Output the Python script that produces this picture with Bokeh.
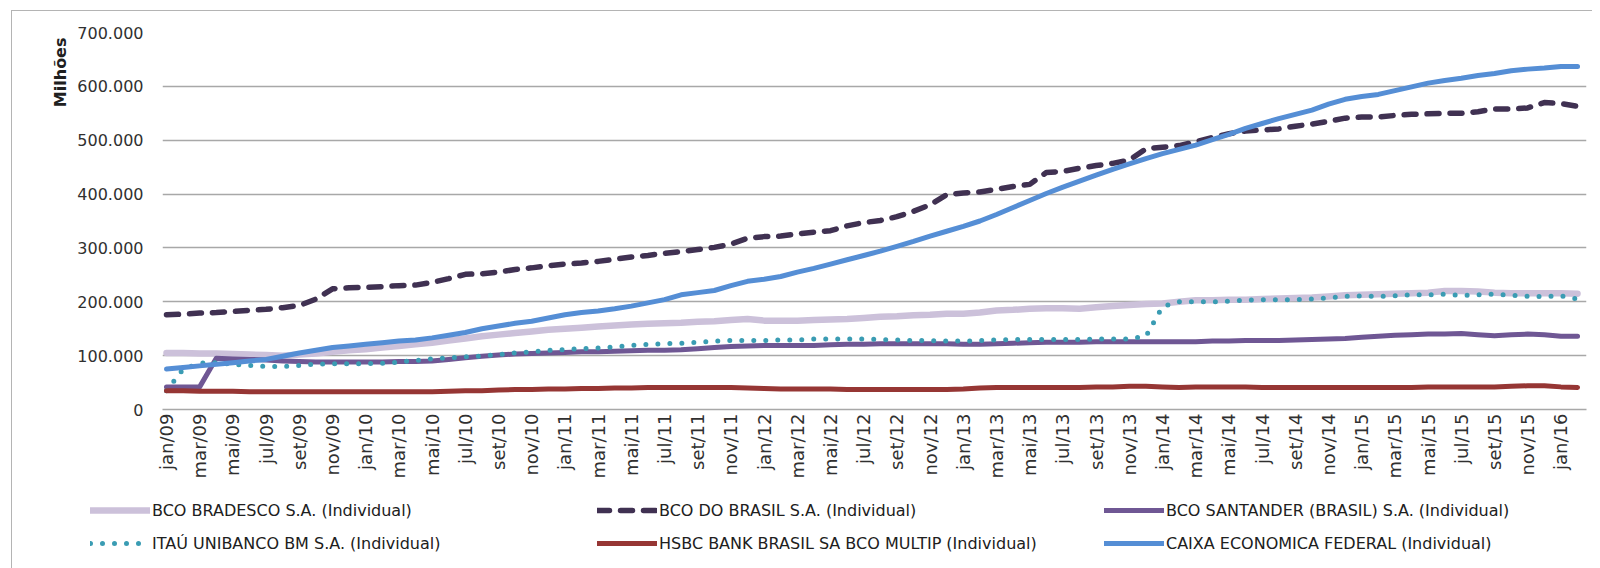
from bokeh.plotting import figure
from bokeh.models import ColumnDataSource, Range1d, FixedTicker, Legend, LegendItem, Title
from bokeh.layouts import column
from bokeh.embed import file_html
from bokeh.resources import INLINE
import math

# ---------------- data (values in thousands of millions R$) ----------------
months = [
    "jan/09", "fev/09", "mar/09", "abr/09", "mai/09", "jun/09", "jul/09", "ago/09", "set/09", "out/09", "nov/09", "dez/09",
    "jan/10", "fev/10", "mar/10", "abr/10", "mai/10", "jun/10", "jul/10", "ago/10", "set/10", "out/10", "nov/10", "dez/10",
    "jan/11", "fev/11", "mar/11", "abr/11", "mai/11", "jun/11", "jul/11", "ago/11", "set/11", "out/11", "nov/11", "dez/11",
    "jan/12", "fev/12", "mar/12", "abr/12", "mai/12", "jun/12", "jul/12", "ago/12", "set/12", "out/12", "nov/12", "dez/12",
    "jan/13", "fev/13", "mar/13", "abr/13", "mai/13", "jun/13", "jul/13", "ago/13", "set/13", "out/13", "nov/13", "dez/13",
    "jan/14", "fev/14", "mar/14", "abr/14", "mai/14", "jun/14", "jul/14", "ago/14", "set/14", "out/14", "nov/14", "dez/14",
    "jan/15", "fev/15", "mar/15", "abr/15", "mai/15", "jun/15", "jul/15", "ago/15", "set/15", "out/15", "nov/15", "dez/15",
    "jan/16", "fev/16",
]

bradesco = [105, 105, 104, 104, 103, 102, 101, 100, 102, 104, 107, 110, 112, 115,
            118, 121, 124, 128, 132, 136, 139, 142, 145, 148, 150, 152, 154, 156, 158, 159, 160, 161, 163, 164, 166, 168, 165, 165, 165,
            166, 167, 168, 170, 172, 173, 175, 176, 178, 178, 180, 184, 185, 187, 188, 188, 187, 190, 192, 194, 196, 197, 200, 203,
            203, 204, 204, 205, 206, 207, 208, 210, 212, 213, 214, 215, 216, 217, 220, 220, 219, 217, 216, 216, 216, 216, 215]

bb = [176, 177, 179, 180, 182, 184, 186, 189, 193, 205, 224, 226, 227, 228, 230,
      231, 236, 243, 251, 252, 255, 260, 263, 267, 270, 272, 275, 279, 283, 286, 290, 293, 297, 301, 307, 318, 321, 322, 326,
      329, 332, 341, 347, 351, 358, 368, 380, 399, 402, 404, 409, 414, 418, 440, 442, 448, 453, 457, 463, 484, 487, 490, 497,
      505, 512, 517, 519, 521, 526, 530, 535, 541, 543, 543, 546, 548, 549, 550, 550, 553, 558, 558, 560, 570, 568, 563]

santander = [42, 42, 42, 95, 94, 93, 92, 90, 89, 88, 88, 88, 88, 88, 89,
             89, 90, 93, 96, 99, 101, 103, 104, 105, 106, 107, 107, 108, 109, 110, 110, 111, 113, 115, 117, 118, 119, 119, 119,
             119, 120, 121, 121, 122, 122, 122, 122, 122, 121, 121, 122, 123, 124, 125, 125, 125, 126, 126, 126, 126, 126, 126, 126,
             127, 127, 128, 128, 128, 129, 130, 131, 132, 134, 136, 138, 139, 140, 140, 141, 139, 137, 139, 140, 139, 136, 136]

itau = [35, 75, 86, 87, 84, 82, 80, 80, 82, 84, 85, 85, 85, 86, 88,
        91, 94, 96, 98, 99, 102, 105, 107, 110, 111, 113, 114, 116, 119, 121, 122, 123, 125, 127, 128, 128, 128, 129, 129,
        131, 131, 131, 131, 130, 129, 128, 128, 127, 127, 128, 129, 130, 130, 130, 130, 130, 131, 131, 131, 136, 191, 200, 200,
        200, 201, 203, 204, 204, 204, 205, 207, 210, 211, 210, 211, 213, 213, 214, 212, 213, 214, 212, 210, 210, 211, 205]

hsbc = [35, 35, 34, 34, 34, 33, 33, 33, 33, 33, 33, 33, 33, 33, 33,
        33, 33, 34, 35, 35, 36, 37, 37, 38, 38, 39, 39, 40, 40, 41, 41, 41, 41, 41, 41, 40, 39, 38, 38,
        38, 38, 37, 37, 37, 37, 37, 37, 37, 38, 40, 41, 41, 41, 41, 41, 41, 42, 42, 43, 43, 42, 41, 42,
        42, 42, 42, 41, 41, 41, 41, 41, 41, 41, 41, 41, 41, 42, 42, 42, 42, 42, 43, 44, 44, 42, 41]

caixa = [75, 78, 81, 84, 87, 90, 93, 99, 105, 110, 115, 118, 121, 124, 127,
         129, 133, 138, 143, 150, 155, 160, 164, 170, 176, 180, 183, 187, 192, 198, 204, 213, 217, 221, 230, 238, 242, 247, 255,
         262, 270, 278, 286, 294, 303, 312, 322, 331, 340, 350, 362, 375, 388, 401, 413, 424, 435, 446, 456, 466, 475, 483, 491,
         501, 511, 522, 531, 540, 548, 556, 567, 576, 581, 585, 592, 599, 606, 611, 615, 620, 624, 629, 632, 634, 637, 637]

series_names = [
    "BCO BRADESCO S.A. (Individual)",
    "BCO DO BRASIL S.A. (Individual)",
    "BCO SANTANDER (BRASIL) S.A. (Individual)",
    "ITAÚ UNIBANCO BM S.A. (Individual)",
    "HSBC BANK BRASIL SA BCO MULTIP (Individual)",
    "CAIXA ECONOMICA FEDERAL (Individual)",
]

y_ticks = [0, 100, 200, 300, 400, 500, 600, 700]
y_tick_labels = ["0", "100.000", "200.000", "300.000", "400.000", "500.000", "600.000", "700.000"]
y_title = "Milhões"

# ---------------- figure ----------------
FONT = "DejaVu Sans"
x_idx = list(range(len(months)))
source = ColumnDataSource(dict(x=x_idx, bradesco=bradesco, bb=bb, santander=santander,
                               itau=itau, hsbc=hsbc, caixa=caixa))

p = figure(width=1580, height=478, output_backend="svg", toolbar_location=None,
           x_range=Range1d(-0.24, 85.54), y_range=Range1d(0, 700),
           min_border_left=150, min_border_right=6, min_border_top=21, min_border_bottom=80)
p.outline_line_color = None
p.background_fill_color = "white"
p.border_fill_color = "white"

# grid
p.xgrid.grid_line_color = None
p.ygrid.grid_line_color = "#a8a8a8"
p.ygrid.grid_line_width = 1.3
p.ygrid.ticker = FixedTicker(ticks=y_ticks)

# y axis
p.yaxis.ticker = FixedTicker(ticks=y_ticks)
p.yaxis.major_label_overrides = {t: l for t, l in zip(y_ticks, y_tick_labels)}
p.yaxis.axis_line_color = None
p.yaxis.major_tick_line_color = None
p.yaxis.minor_tick_line_color = None
p.yaxis.major_tick_in = 0
p.yaxis.major_tick_out = 0
p.yaxis.major_label_standoff = 19
p.yaxis.major_label_text_font = FONT
p.yaxis.major_label_text_font_size = "16px"
p.yaxis.major_label_text_color = "#303030"

# x axis
x_ticks = x_idx[::2]
p.xaxis.ticker = FixedTicker(ticks=x_ticks)
p.xaxis.major_label_overrides = {i: months[i] for i in x_ticks}
p.xaxis.major_label_orientation = math.pi / 2
p.xaxis.axis_line_color = "#a8a8a8"
p.xaxis.axis_line_width = 1.3
p.xaxis.major_tick_line_color = None
p.xaxis.minor_tick_line_color = None
p.xaxis.major_tick_in = 0
p.xaxis.major_tick_out = 0
p.xaxis.major_label_standoff = 4
p.xaxis.major_label_text_font = FONT
p.xaxis.major_label_text_font_size = "18px"
p.xaxis.major_label_text_color = "#303030"

# y title at top-left
t = Title(text=y_title, align="right", text_font=FONT, text_font_size="16px",
          text_font_style="bold", text_color="#202020", standoff=10, offset=5)
p.add_layout(t, "left")

# lines
styles = [
    ("bradesco", "#ccc1da", 6.5, "solid"),
    ("bb", "#403152", 5.5, "12 11"),
    ("santander", "#6f5794", 5.0, "solid"),
    ("itau", "#3a9cb3", 5.0, "0 12"),
    ("hsbc", "#963634", 5.0, "solid"),
    ("caixa", "#558ed5", 5.0, "solid"),
]
for col, color, w, dash in styles:
    p.line(x="x", y=col, source=source, line_color=color, line_width=w,
           line_dash=dash, line_cap="round", line_join="round")

# ---------------- legend strip (own canvas, below the chart) ----------------
# same data/renderers, ranges set out of view so only the legend shows
lg = figure(width=1580, height=79, output_backend="svg", toolbar_location=None,
            x_range=Range1d(1000, 1001), y_range=Range1d(1000, 1001), min_border=0)
lg.frame_align = False
lg.axis.visible = False
lg.grid.visible = False
lg.outline_line_color = None
items = []
for (col, color, w, dash), name in zip(styles, series_names):
    r = lg.line(x="x", y=col, source=source, line_color=color, line_width=w,
                line_dash=dash, line_cap="round", line_join="round")
    items.append(LegendItem(label=name, renderers=[r]))

legend = Legend(items=items, orientation="horizontal", ncols=3,
                location=(78, 15), glyph_width=60, glyph_height=20,
                label_height=20, label_width=432, label_standoff=2, spacing=13,
                padding=0, margin=0, border_line_color=None, background_fill_alpha=0,
                label_text_font=FONT, label_text_font_size="16px", label_text_color="#202020")
lg.add_layout(legend, "center")

layout = column(p, lg, spacing=0, margin=(10, 0, 0, 11),
                styles={"border-top": "1px solid #b4b4b4", "border-left": "1px solid #b4b4b4"})

open("out.html", "w").write(file_html(layout, INLINE))
